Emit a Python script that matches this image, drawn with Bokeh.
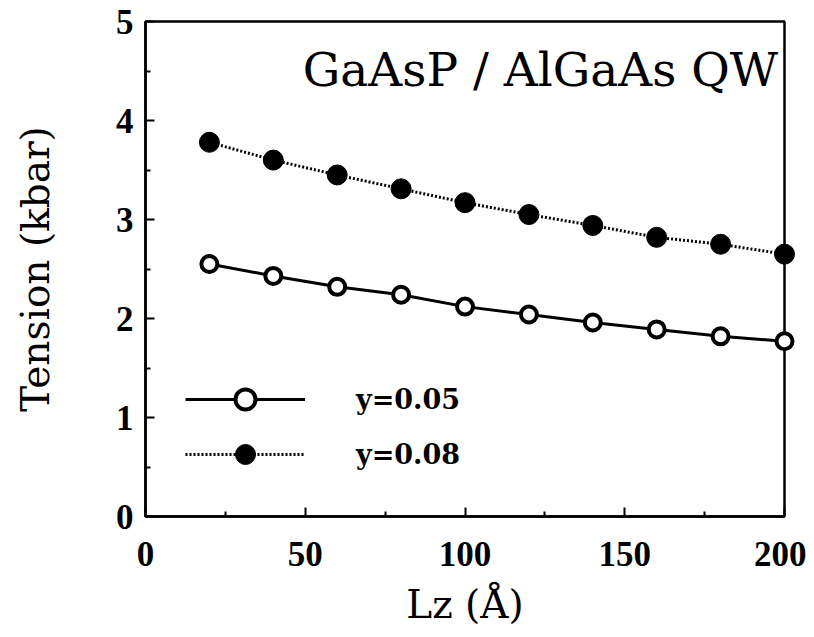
from bokeh.plotting import figure
from bokeh.models import Legend, LegendItem, Label, FixedTicker, Range1d
from bokeh.embed import file_html
from bokeh.resources import INLINE

# Data
lz = [20, 40, 60, 80, 100, 120, 140, 160, 180, 200]
tension_y005 = [2.55, 2.43, 2.32, 2.24, 2.12, 2.04, 1.96, 1.89, 1.82, 1.77]
tension_y008 = [3.78, 3.60, 3.45, 3.31, 3.17, 3.05, 2.94, 2.82, 2.75, 2.65]

x_major = [0, 50, 100, 150, 200]
x_minor = [25, 75, 125, 175]
y_major = [0, 1, 2, 3, 4, 5]
y_minor = [0.5, 1.5, 2.5, 3.5, 4.5]

label_005 = "y=0.05"
label_008 = "y=0.08"
title_text = "GaAsP / AlGaAs QW"

p = figure(width=806, height=629, output_backend="svg", toolbar_location=None,
           x_range=Range1d(0, 200), y_range=Range1d(0, 5),
           min_border_left=145, min_border_right=22, min_border_top=21,
           min_border_bottom=109)
p.grid.visible = False
p.outline_line_color = "black"
p.outline_line_width = 2.5
p.background_fill_color = "white"
p.border_fill_color = "white"

for ax in (p.xaxis, p.yaxis):
    ax.axis_line_width = 2.5
    ax.axis_line_color = "black"
    ax.major_tick_in = 9
    ax.major_tick_out = 0
    ax.minor_tick_in = 5
    ax.minor_tick_out = 0
    ax.major_tick_line_width = 2
    ax.minor_tick_line_width = 2
    ax.major_label_text_font = "Liberation Serif"
    ax.major_label_text_font_style = "bold"
    ax.major_label_text_font_size = "35px"
    ax.major_label_text_color = "black"
    ax.axis_label_text_font = "DejaVu Serif"
    ax.axis_label_text_font_style = "normal"
    ax.axis_label_text_font_size = "39px"
    ax.axis_label_text_color = "black"

p.xaxis.ticker = FixedTicker(ticks=x_major, minor_ticks=x_minor)
p.yaxis.ticker = FixedTicker(ticks=y_major, minor_ticks=y_minor)
p.xaxis.axis_label = "Lz (Å)"
p.yaxis.axis_label = "Tension (kbar)"
p.xaxis.major_label_standoff = 25
p.yaxis.major_label_standoff = 12
p.xaxis.axis_label_standoff = 13
p.yaxis.axis_label_standoff = 55

l1 = p.line(lz, tension_y005, line_color="black", line_width=3, level="overlay")
s1 = p.scatter(lz, tension_y005, size=16, fill_color="white", line_color="black",
               line_width=4, level="overlay")
l2 = p.line(lz, tension_y008, line_color="black", line_width=3, line_dash="2 2",
            level="overlay")
s2 = p.scatter(lz, tension_y008, size=20, fill_color="black", line_color="black",
               line_width=1, level="overlay")

legend = Legend(items=[LegendItem(label=label_005, renderers=[l1, s1]),
                       LegendItem(label=label_008, renderers=[l2, s2])],
                location=(40, 37), glyph_width=120, glyph_height=50,
                label_height=50, spacing=5, padding=0, margin=0,
                label_standoff=51, border_line_color=None,
                background_fill_alpha=0,
                label_text_font="DejaVu Serif", label_text_font_style="bold",
                label_text_font_size="27px", label_text_color="black")
p.add_layout(legend)

p.add_layout(Label(x=198, y=4.52, text=title_text, text_align="right",
                   text_baseline="alphabetic", text_font="DejaVu Serif",
                   text_font_size="47px", text_color="black"))

open("out.html", "w").write(file_html(p, INLINE))
